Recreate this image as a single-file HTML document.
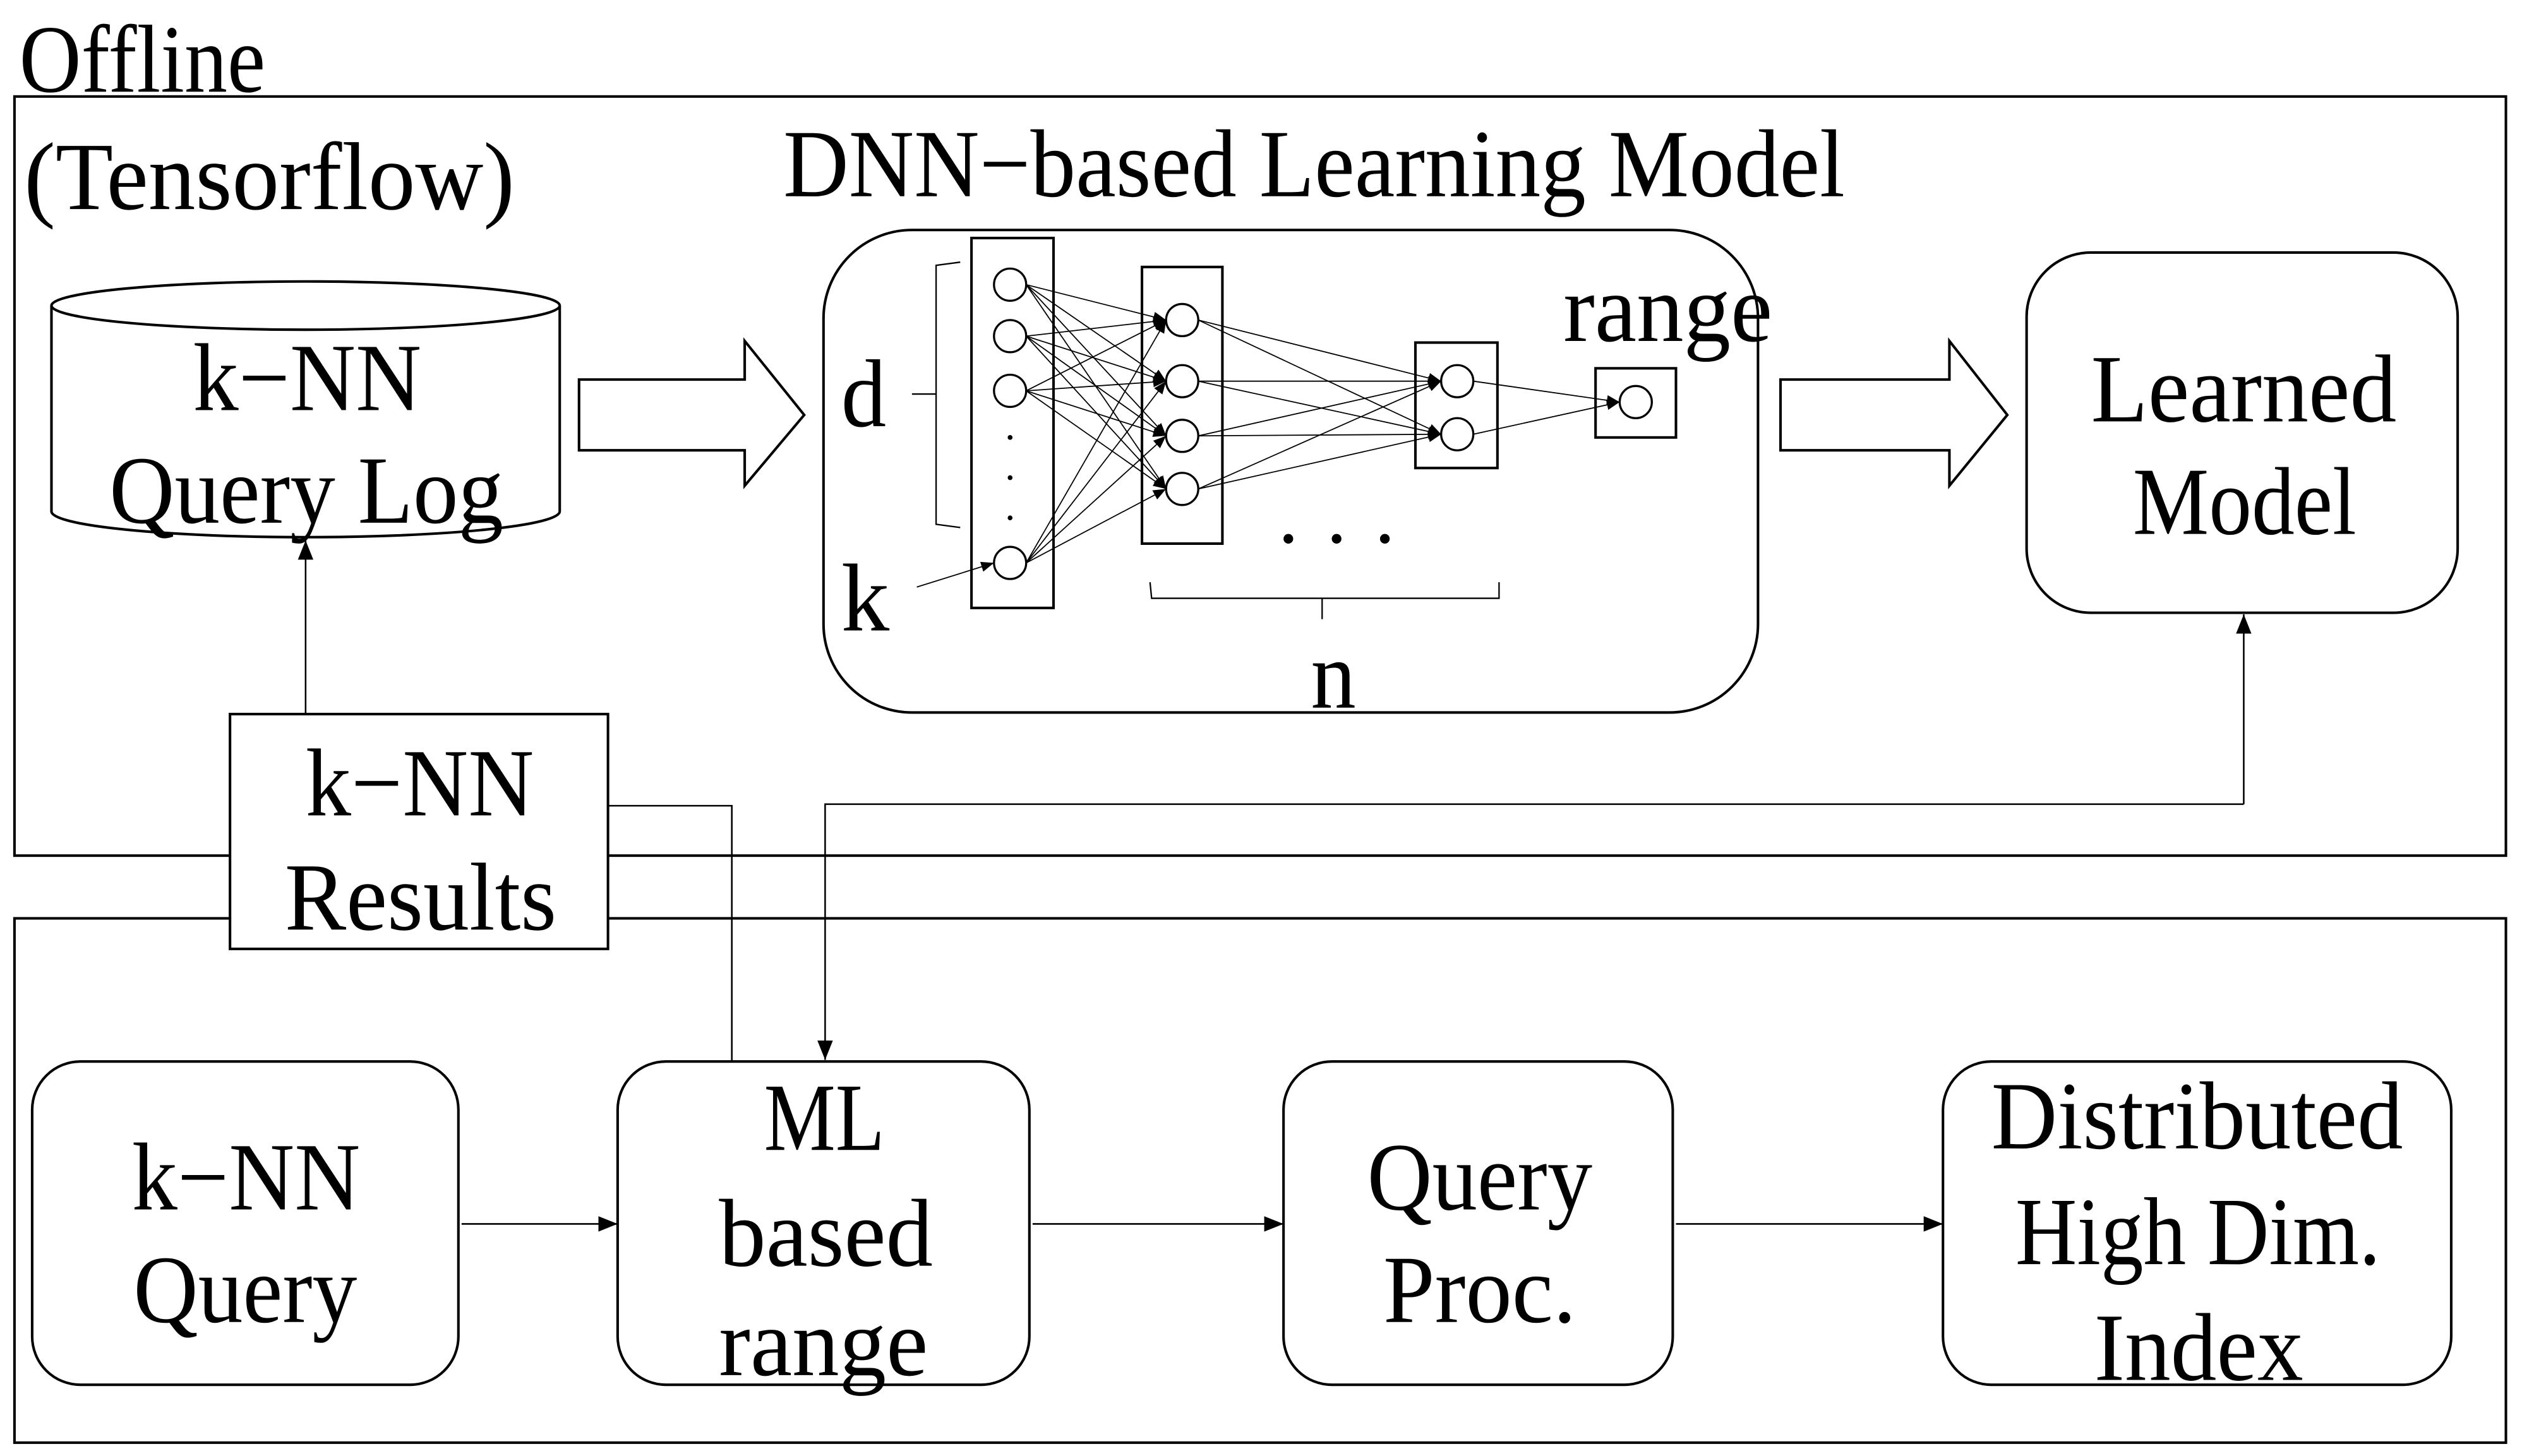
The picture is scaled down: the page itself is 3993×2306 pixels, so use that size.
<!DOCTYPE html>
<html><head><meta charset="utf-8"><style>html,body{margin:0;padding:0;background:#fff}svg{display:block}</style></head>
<body>
<svg width="3993" height="2306" viewBox="0 0 1568 905.3" preserveAspectRatio="none" xmlns="http://www.w3.org/2000/svg" font-family="'Liberation Serif',serif" fill="#000">
<defs>
<marker id="a" viewBox="0 0 10 10" refX="10" refY="5" markerWidth="8" markerHeight="8" markerUnits="userSpaceOnUse" orient="auto"><path d="M0,1 L10,5 L0,9z" fill="#000"/></marker>
<marker id="b" viewBox="0 0 10 10" refX="10" refY="5" markerWidth="12" markerHeight="12" markerUnits="userSpaceOnUse" orient="auto"><path d="M0,1 L10,5 L0,9z" fill="#000"/></marker>
</defs>
<g fill="none" stroke="#000" stroke-width="1.6">
<rect x="9" y="60" width="1549" height="472"/>
<rect x="9" y="571" width="1549" height="326"/>
<path d="M32,190 L32,318 A158,16 0 0 0 348,318 L348,190" fill="#fff"/>
<ellipse cx="190" cy="190" rx="158" ry="15" fill="#fff"/>
<path d="M360,236 L463,236 L463,212 L500,258 L463,302 L463,280 L360,280 Z"/>
<path d="M1107,236 L1212,236 L1212,212 L1248,258 L1212,302 L1212,280 L1107,280 Z"/>
<rect x="512" y="143" width="581" height="300" rx="55"/>
<rect x="1260" y="157" width="268" height="224" rx="40"/>
<rect x="604" y="148" width="51" height="230"/>
<rect x="710" y="166" width="50" height="172"/>
<rect x="880" y="213" width="51" height="78"/>
<rect x="992" y="229" width="50" height="43"/>
<g stroke-width="1.3">
<circle cx="628" cy="177" r="10"/><circle cx="628" cy="209" r="10"/><circle cx="628" cy="243" r="10"/><circle cx="628" cy="350" r="10"/>
<circle cx="735" cy="199" r="10"/><circle cx="735" cy="237" r="10"/><circle cx="735" cy="271" r="10"/><circle cx="735" cy="304" r="10"/>
<circle cx="906" cy="237" r="10"/><circle cx="906" cy="270" r="10"/>
<circle cx="1017" cy="250" r="10"/>
</g>
<g stroke-width="0.7" marker-end="url(#a)">
<path d="M638,177 L725,199"/><path d="M638,177 L725,237"/><path d="M638,177 L725,271"/><path d="M638,177 L725,304"/>
<path d="M638,209 L725,199"/><path d="M638,209 L725,237"/><path d="M638,209 L725,271"/><path d="M638,209 L725,304"/>
<path d="M638,243 L725,199"/><path d="M638,243 L725,237"/><path d="M638,243 L725,271"/><path d="M638,243 L725,304"/>
<path d="M638,350 L725,199"/><path d="M638,350 L725,237"/><path d="M638,350 L725,271"/><path d="M638,350 L725,304"/>
<path d="M745,199 L896,237"/><path d="M745,199 L896,270"/><path d="M745,237 L896,237"/><path d="M745,237 L896,270"/>
<path d="M745,271 L896,237"/><path d="M745,271 L896,270"/><path d="M745,304 L896,237"/><path d="M745,304 L896,270"/>
<path d="M916,237 L1007,250"/><path d="M916,270 L1007,250"/>
<path d="M570,365 L618,350"/>
</g>
<path d="M597,163 L582,165 L582,326 L597,328 M582,245 L567,245" stroke-width="0.9"/>
<path d="M715,362 L716,372 L932,372 L932,362 M822,372 L822,385" stroke-width="0.9"/>
<g stroke-width="1">
<path d="M190,444 L190,336" marker-end="url(#b)"/>
<path d="M378,501 L455,501 L455,660"/>
<path d="M1395,500 L1395,382" marker-end="url(#b)"/>
<path d="M1395,500 L513,500 L513,659" marker-end="url(#b)"/>
<path d="M287,761 L384,761" marker-end="url(#b)"/>
<path d="M642,761 L798,761" marker-end="url(#b)"/>
<path d="M1042,761 L1208,761" marker-end="url(#b)"/>
</g>
<rect x="143" y="444" width="235" height="146" fill="#fff"/>
<rect x="20" y="660" width="265" height="201" rx="30"/>
<rect x="384" y="660" width="256" height="201" rx="30"/>
<rect x="798" y="660" width="242" height="201" rx="30"/>
<rect x="1208" y="660" width="316" height="201" rx="30"/>
</g>
<g fill="#000">
<circle cx="628" cy="272" r="1.5"/><circle cx="628" cy="297" r="1.5"/><circle cx="628" cy="322" r="1.5"/>
<circle cx="801" cy="335" r="3"/><circle cx="831" cy="335" r="3"/><circle cx="861" cy="335" r="3"/>
</g>
<g font-size="60">
<text x="12" y="57" textLength="153" lengthAdjust="spacingAndGlyphs">Offline</text>
<text x="15" y="130" textLength="305" lengthAdjust="spacingAndGlyphs">(Tensorflow)</text>
<text x="487" y="122" textLength="660" lengthAdjust="spacingAndGlyphs">DNN−based Learning Model</text>
<text x="120" y="255" textLength="142" lengthAdjust="spacingAndGlyphs">k−NN</text>
<text x="68" y="325" textLength="245" lengthAdjust="spacingAndGlyphs">Query Log</text>
<text x="523" y="265" textLength="28" lengthAdjust="spacingAndGlyphs">d</text>
<text x="523" y="392" textLength="30" lengthAdjust="spacingAndGlyphs">k</text>
<text x="972" y="212" textLength="130" lengthAdjust="spacingAndGlyphs">range</text>
<text x="815" y="440" textLength="28" lengthAdjust="spacingAndGlyphs">n</text>
<text x="1300" y="262" textLength="190" lengthAdjust="spacingAndGlyphs">Learned</text>
<text x="1326" y="332" textLength="139" lengthAdjust="spacingAndGlyphs">Model</text>
<text x="190" y="507" textLength="142" lengthAdjust="spacingAndGlyphs">k−NN</text>
<text x="177" y="578" textLength="169" lengthAdjust="spacingAndGlyphs">Results</text>
<text x="82" y="752" textLength="142" lengthAdjust="spacingAndGlyphs">k−NN</text>
<text x="83" y="822" textLength="139" lengthAdjust="spacingAndGlyphs">Query</text>
<text x="475" y="715" textLength="75" lengthAdjust="spacingAndGlyphs">ML</text>
<text x="447" y="787" textLength="133" lengthAdjust="spacingAndGlyphs">based</text>
<text x="447" y="855" textLength="130" lengthAdjust="spacingAndGlyphs">range</text>
<text x="850" y="752" textLength="140" lengthAdjust="spacingAndGlyphs">Query</text>
<text x="860" y="822" textLength="120" lengthAdjust="spacingAndGlyphs">Proc.</text>
<text x="1238" y="714" textLength="256" lengthAdjust="spacingAndGlyphs">Distributed</text>
<text x="1253" y="786" textLength="227" lengthAdjust="spacingAndGlyphs">High Dim.</text>
<text x="1302" y="858" textLength="130" lengthAdjust="spacingAndGlyphs">Index</text>
</g>
</svg>
</body></html>
